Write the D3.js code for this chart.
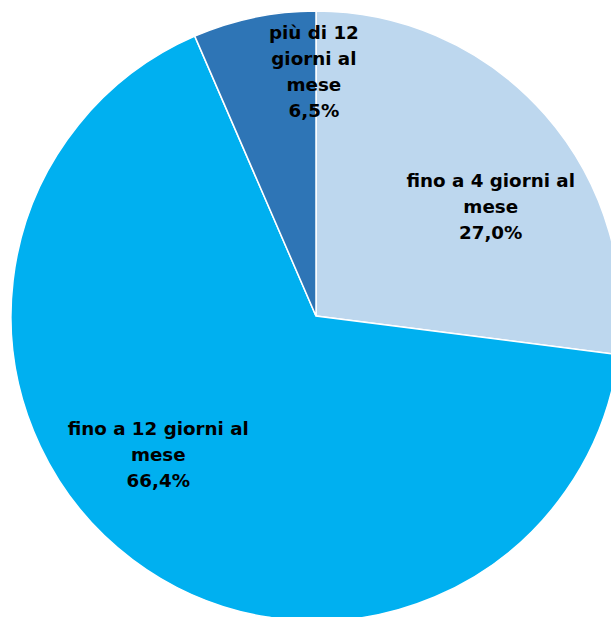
<!DOCTYPE html>
<html>
<head>
<meta charset="utf-8">
<script src="https://cdn.jsdelivr.net/npm/d3@7"></script>
<style>
  html, body { margin: 0; padding: 0; background: #fff; }
  svg { display: block; }
</style>
</head>
<body>
<svg id="chart" width="611" height="617"></svg>
<script>
// Frequenza di utilizzo (quota percentuale)
const categories = ["fino a 4 giorni al mese", "fino a 12 giorni al mese", "più di 12 giorni al mese"];
const values = [27.0, 66.4, 6.5];
const valueLabels = ["27,0%", "66,4%", "6,5%"];
const labelLines = [
  ["fino a 4 giorni al", "mese"],
  ["fino a 12 giorni al", "mese"],
  ["più di 12", "giorni al", "mese"]
];
const colors = ["#BDD7EE", "#00B0F0", "#2E75B6"];

// label anchor: angle (degrees clockwise from top) and distance from centre
const labelAngle = [58, 228.7, 359.5];
const labelDist = [206, 210, 244];

const width = 611, height = 617;
const cx = 316, cy = 316, radius = 305;

const svg = d3.select("#chart");
const g = svg.append("g").attr("transform", `translate(${cx},${cy})`);

const data = categories.map((c, i) => ({ category: c, value: values[i], idx: i }));

const pie = d3.pie().value(d => d.value).sort(null);
const arc = d3.arc().innerRadius(0).outerRadius(radius);

g.selectAll("path.slice")
  .data(pie(data))
  .join("path")
  .attr("class", "slice")
  .attr("d", arc)
  .attr("fill", d => colors[d.data.idx])
  .attr("stroke", "#ffffff")
  .attr("stroke-width", 1.5);

const lineH = 26;
g.selectAll("text.lbl")
  .data(data)
  .join("text")
  .attr("class", "lbl")
  .attr("text-anchor", "middle")
  .attr("font-family", "'DejaVu Sans', sans-serif")
  .attr("font-weight", "bold")
  .attr("font-size", 18.3)
  .attr("fill", "#000")
  .each(function(d) {
    const a = labelAngle[d.idx] * Math.PI / 180;
    const x = Math.sin(a) * labelDist[d.idx];
    const y = -Math.cos(a) * labelDist[d.idx];
    const lines = labelLines[d.idx].concat([valueLabels[d.idx]]);
    const y0 = y - (lines.length - 1) * lineH / 2;
    const t = d3.select(this);
    lines.forEach((ln, k) => {
      t.append("tspan")
        .attr("x", x)
        .attr("y", y0 + k * lineH)
        .attr("dy", "0.35em")
        .text(ln);
    });
  });
</script>
</body>
</html>
